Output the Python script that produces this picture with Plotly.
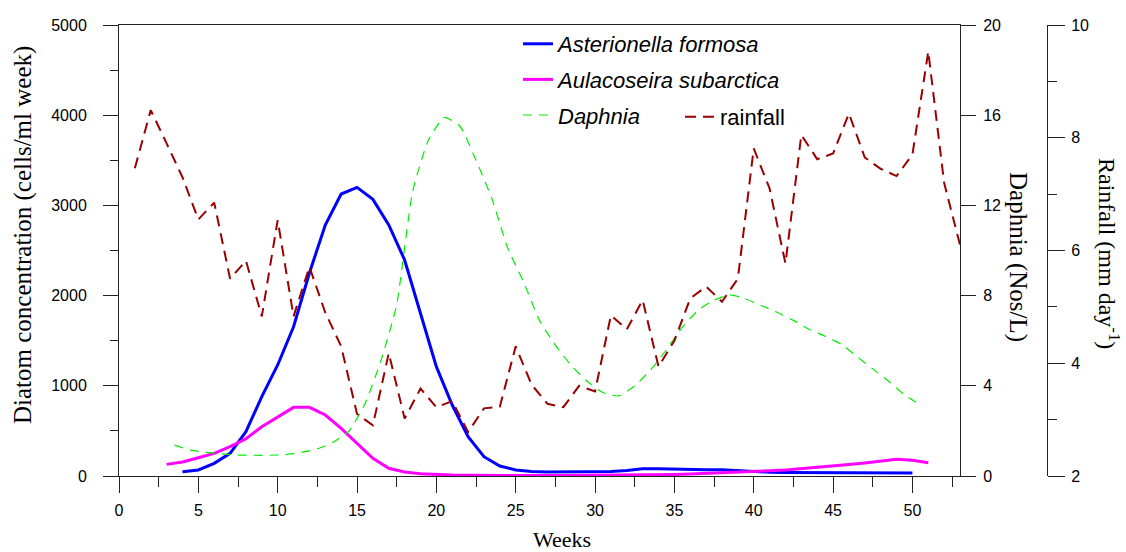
import plotly.graph_objects as go

# ---------------- data ----------------
weeks_ast = list(range(4, 51))
asterionella = [48, 67, 140, 251, 491, 880, 1231, 1655, 2250, 2783, 3126, 3200, 3067, 2783,
                2395, 1800, 1212, 787, 436, 214, 111, 67, 50, 45, 45, 50, 48, 50, 60, 80,
                80, 75, 68, 70, 70, 60, 45, 42, 40, 40, 40, 38, 38, 40, 38, 35, 32]

weeks_aul = list(range(3, 52))
aulacoseira = [129, 155, 203, 251, 325, 413, 546, 650, 761, 761, 676, 528, 362, 196, 85, 44,
               25, 15, 10, 8, 6, 5, 5, 5, 5, 5, 6, 7, 8, 10, 12, 15, 18, 22, 28, 35, 43,
               52, 58, 67, 80, 96, 110, 127, 145, 165, 185, 175, 148]

weeks_daph = [w + 0.5 for w in range(3, 51)]
daphnia = [1.37, 1.15, 1.05, 0.98, 0.93, 0.92, 0.92, 0.95, 1.05, 1.2, 1.5, 2.0, 3.2, 5.1,
           7.6, 12.6, 14.9, 15.9, 15.5, 14.0, 12.3, 10.1, 8.6, 6.9, 5.8, 4.9, 4.2, 3.7,
           3.55, 4.0, 4.7, 5.6, 6.6, 7.35, 7.8, 8.03, 7.85, 7.55, 7.25, 6.9, 6.5, 6.2,
           5.85, 5.3, 4.75, 4.2, 3.6, 3.15]

weeks_rain = list(range(1, 54))
rainfall = [7.46, 8.49, 7.9, 7.3, 6.55, 6.85, 5.5, 5.82, 4.83, 6.54, 4.83, 5.71, 4.9, 4.3,
            3.1, 2.9, 4.18, 3.02, 3.55, 3.22, 3.33, 2.78, 3.2, 3.23, 4.3, 3.62, 3.28, 3.22,
            3.6, 3.5, 4.85, 4.6, 5.12, 3.94, 4.4, 5.15, 5.36, 5.09, 5.5, 7.81, 7.1, 5.77,
            8.05, 7.62, 7.72, 8.43, 7.65, 7.45, 7.32, 7.7, 9.53, 7.2, 6.1]

x_ticks = list(range(0, 51, 5))

# ---------------- layout geometry ----------------
W, H = 1126, 552
ML, MR, MT, MB = 119, 79, 25, 76
PW = W - ML - MR          # paper width
PH = H - MT - MB          # paper height
plot_right = 960
x_dom_end = (plot_right - ML) / PW


def px_x(p):
    return (p - ML) / PW


def px_y(p):
    return (H - MB - p) / PH


SANS = "Liberation Sans, Arial, sans-serif"
SERIF = "Liberation Serif, Times New Roman, serif"
AXC = "#222222"

fig = go.Figure()

fig.add_trace(go.Scatter(
    x=weeks_ast, y=asterionella, mode="lines", name="<i>Asterionella formosa</i>",
    line=dict(color="#0000FF", width=3), legendgroup="a", legend="legend"))
fig.add_trace(go.Scatter(
    x=weeks_aul, y=aulacoseira, mode="lines", name="<i>Aulacoseira subarctica</i>",
    line=dict(color="#FF00FF", width=3), legendgroup="b", legend="legend"))
fig.add_trace(go.Scatter(
    x=weeks_daph, y=daphnia, mode="lines", name="<i>Daphnia</i>", yaxis="y2",
    line=dict(color="#00EE00", width=1.2, dash="9px,7px", shape="spline", smoothing=0.5),
    legendgroup="c", legend="legend"))
fig.add_trace(go.Scatter(
    x=weeks_rain, y=rainfall, mode="lines", name="rainfall", yaxis="y3",
    line=dict(color="#990000", width=2, dash="11px,7px"),
    legend="legend2"))

tickfont = dict(family=SANS, size=16, color="black")

fig.update_layout(
    width=W, height=H,
    margin=dict(l=ML, r=MR, t=MT, b=MB, pad=0),
    paper_bgcolor="white", plot_bgcolor="white",
    xaxis=dict(
        domain=[0, x_dom_end], range=[0, 53], tickvals=x_ticks,
        showgrid=False, zeroline=False, showline=True, linecolor=AXC, linewidth=1,
        mirror=True, ticks="outside", ticklen=16, tickcolor=AXC, tickwidth=1,
        minor=dict(dtick=2.5, tick0=0, ticks="outside", ticklen=10, tickcolor=AXC, showgrid=False),
        tickfont=tickfont, ticklabelstandoff=4,
    ),
    yaxis=dict(
        range=[0, 5000], dtick=1000, showgrid=False, zeroline=False, showline=True,
        linecolor=AXC, linewidth=1, ticks="outside", ticklen=15, tickcolor=AXC,
        minor=dict(dtick=500, ticks="outside", ticklen=8, tickcolor=AXC, showgrid=False),
        tickfont=tickfont, ticklabelstandoff=13,
    ),
    yaxis2=dict(
        range=[0, 20], dtick=4, overlaying="y", side="right", anchor="x",
        showgrid=False, zeroline=False, showline=True, linecolor=AXC, linewidth=1,
        ticks="outside", ticklen=15, tickcolor=AXC, tickfont=tickfont, ticklabelstandoff=4,
    ),
    yaxis3=dict(
        range=[2, 10], dtick=2, overlaying="y", side="right", anchor="free", position=1.0,
        showgrid=False, zeroline=False, showline=True, linecolor=AXC, linewidth=1,
        ticks="outside", ticklen=17, tickcolor=AXC,
        minor=dict(dtick=1, ticks="outside", ticklen=9, tickcolor=AXC, showgrid=False),
        tickfont=tickfont, ticklabelstandoff=3,
    ),
    legend=dict(
        x=px_x(518), y=px_y(23), xanchor="left", yanchor="top",
        font=dict(family=SANS, size=22, color="black"),
        bgcolor="rgba(0,0,0,0)", tracegroupgap=4, itemwidth=30,
    ),
    legend2=dict(
        x=px_x(680), y=px_y(96), xanchor="left", yanchor="top",
        font=dict(family=SANS, size=22, color="black"),
        bgcolor="rgba(0,0,0,0)", itemwidth=30,
    ),
    showlegend=True,
    annotations=[
        dict(text="Diatom concentration (cells/ml week)", xref="paper", yref="paper",
             x=px_x(23), y=px_y(235), xanchor="center", yanchor="middle", textangle=-90,
             showarrow=False, font=dict(family=SERIF, size=25, color="black")),
        dict(text="Daphnia (Nos/L)", xref="paper", yref="paper",
             x=px_x(1018), y=px_y(257), xanchor="center", yanchor="middle", textangle=90,
             showarrow=False, font=dict(family=SERIF, size=25, color="black")),
        dict(text="Rainfall (mm day<sup>-1</sup>)", xref="paper", yref="paper",
             x=px_x(1109), y=px_y(253), xanchor="center", yanchor="middle", textangle=90,
             showarrow=False, font=dict(family=SERIF, size=24, color="black")),
        dict(text="Weeks", xref="paper", yref="paper",
             x=px_x(562), y=px_y(539), xanchor="center", yanchor="middle",
             showarrow=False, font=dict(family=SERIF, size=22, color="black")),
    ],
)

fig.write_html("out.html")
